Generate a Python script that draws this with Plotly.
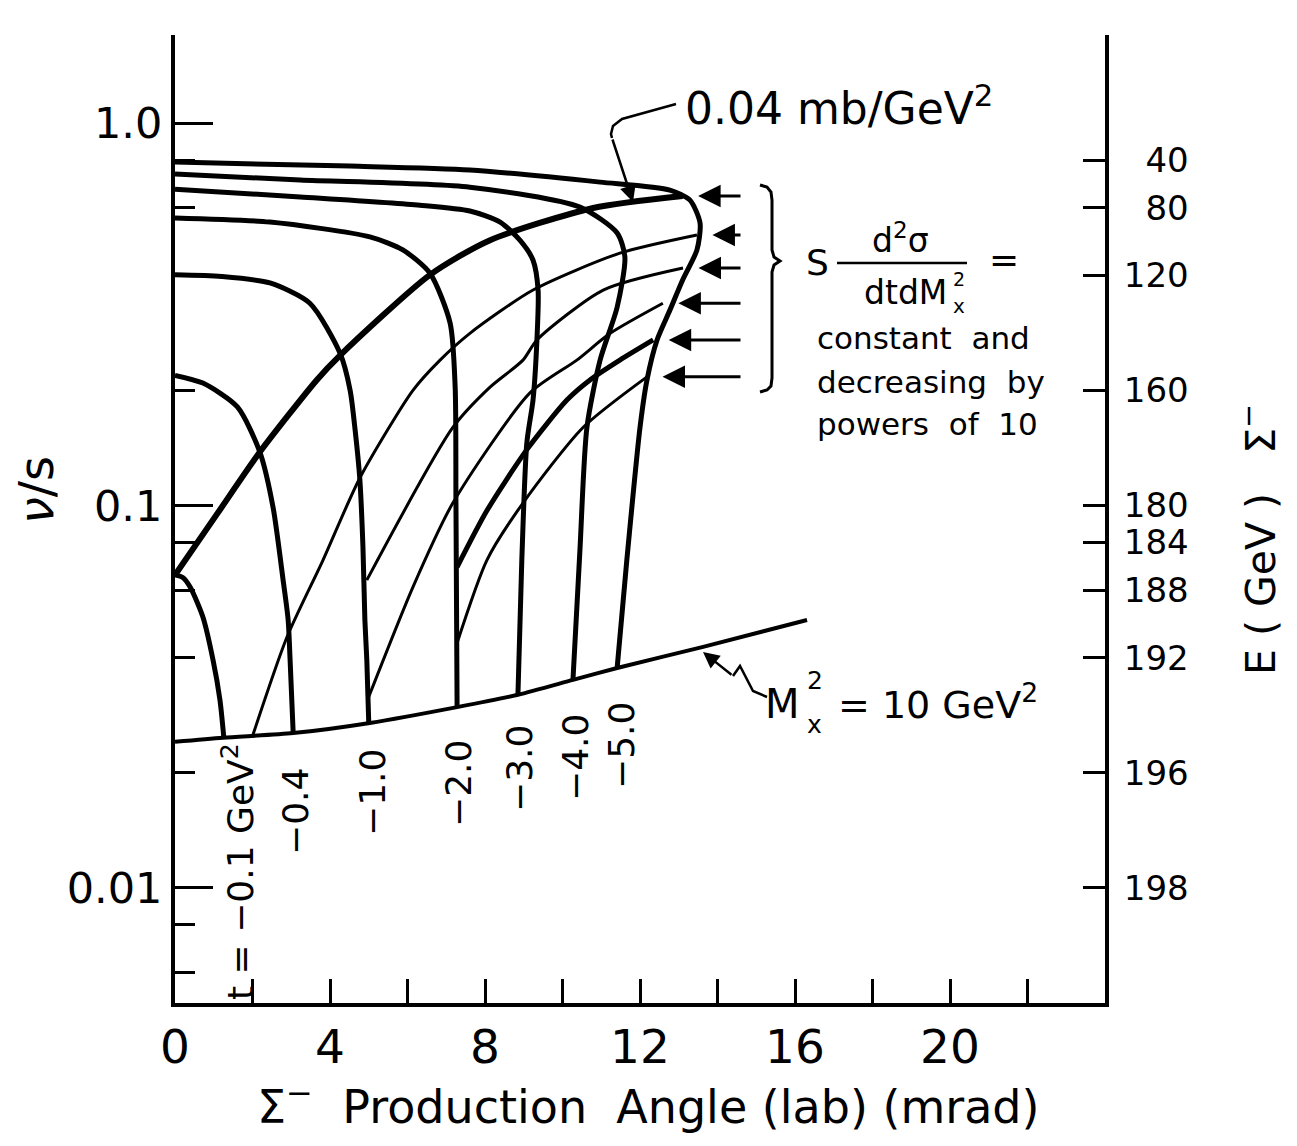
import numpy as np
import plotly.graph_objects as go

# ---------------- data ----------------
# lower kinematic boundary  M_x^2 = 10 GeV^2
BND_X = [0.0, 1.24, 3.05, 5.03, 7.28, 8.85, 10.27, 11.41, 13.63, 16.31]
BND_V = [0.0241, 0.0247, 0.0254, 0.0270, 0.0297, 0.0320, 0.0350, 0.0376, 0.0427, 0.0502]

# constant-t curves (theta in mrad, nu/s)
T01_X = [0.0, 0.2, 0.39, 0.72, 0.98, 1.16, 1.26]
T01_V = [0.0658, 0.0648, 0.0612, 0.0511, 0.0395, 0.0310, 0.0247]
T04_X = [0.0, 0.72, 1.61, 2.19, 2.53, 2.79, 2.92, 2.97, 3.05]
T04_V = [0.219, 0.209, 0.181, 0.138, 0.099, 0.0638, 0.0502, 0.0395, 0.0254]
T10_X = [0.0, 1.2, 2.45, 3.48, 4.26, 4.52, 4.65, 4.77, 4.85, 4.90, 4.95, 5.0]
T10_V = [0.401, 0.397, 0.382, 0.338, 0.250, 0.200, 0.157, 0.117, 0.078, 0.0502, 0.0395, 0.0270]
T20_X = [0.0, 2.45, 5.03, 5.88, 6.58, 7.10, 7.23, 7.25, 7.28]
T20_V = [0.565, 0.551, 0.504, 0.466, 0.405, 0.300, 0.204, 0.103, 0.0297]
T30_X = [0.0, 3.23, 6.32, 7.61, 8.39, 8.90, 9.24, 9.37, 9.34, 9.24, 9.08, 8.95, 8.85]
T30_V = [0.672, 0.641, 0.610, 0.589, 0.551, 0.494, 0.438, 0.366, 0.271, 0.189, 0.146, 0.0720, 0.0320]
T40_X = [0.0, 3.23, 7.61, 10.45, 11.41, 11.61, 11.41, 10.97, 10.63, 10.45, 10.27]
T40_V = [0.736, 0.710, 0.680, 0.603, 0.516, 0.446, 0.330, 0.240, 0.160, 0.0765, 0.0350]
T50_X = [0.0, 4.52, 7.61, 10.97, 12.77, 13.29, 13.55, 13.47, 13.10, 12.77, 12.44, 12.18, 12.0, 11.66, 11.41]
T50_V = [0.791, 0.772, 0.754, 0.701, 0.668, 0.629, 0.548, 0.466, 0.389, 0.324, 0.271, 0.213, 0.160, 0.0720, 0.0376]

# contours of constant s d2sigma/dt dMx2 (0.04 mb/GeV^2 and decreasing by 10)
C0_X = [0.0, 1.1, 2.19, 3.66, 4.26, 6.58, 8.13, 10.79, 13.1]
C0_V = [0.0658, 0.0955, 0.138, 0.213, 0.247, 0.401, 0.494, 0.600, 0.645]
C1_X = [2.01, 2.89, 3.82, 4.77, 6.14, 6.84, 7.61, 9.24, 11.48, 13.47]
C1_V = [0.0251, 0.0453, 0.0720, 0.118, 0.200, 0.240, 0.282, 0.366, 0.457, 0.510]
C2_X = [4.95, 7.17, 8.13, 8.98, 9.34, 11.05, 13.11]
C2_V = [0.0638, 0.160, 0.204, 0.240, 0.271, 0.366, 0.418]
C3_X = [5.0, 6.14, 7.17, 9.16, 10.37, 11.23, 12.59]
C3_V = [0.0316, 0.0612, 0.1015, 0.197, 0.240, 0.282, 0.338]
C4_X = [7.28, 8.05, 9.08, 10.12, 10.71, 11.48, 12.34]
C4_V = [0.0690, 0.097, 0.140, 0.189, 0.213, 0.240, 0.271]
C5_X = [7.28, 8.05, 8.98, 10.53, 12.18]
C5_V = [0.0437, 0.072, 0.1015, 0.160, 0.217]

T_LABELS = ["t = \u22120.1 GeV<sup>2</sup>", "\u22120.4", "\u22121.0", "\u22122.0",
            "\u22123.0", "\u22124.0", "\u22125.0"]

X_TICKS = [0, 4, 8, 12, 16, 20]
X_MINOR = [2, 6, 10, 14, 18, 22]
Y_TICKS = [0.01, 0.1, 1.0]
Y_TICKTEXT = ["0.01", "0.1", "1.0"]
Y_MINOR = [0.006, 0.008, 0.02, 0.04, 0.06, 0.08, 0.2, 0.4, 0.6, 0.8]
E_LABELS = [40, 80, 120, 160, 180, 184, 188, 192, 196, 198]
E0 = 200.0  # beam energy, GeV  (nu/s = (E0 - E)/E0)

# ---------------- figure ----------------
OFF = 8                      # default page (body) margin of the html
W, H = 1297 - 2 * OFF, 1146 - 2 * OFF
PX0, PX1, PY0, PY1 = 175, 1105, 35, 1003   # plot area in page pixels
ML, MT = PX0 - OFF, PY0 - OFF
MR, MB = W - ML - (PX1 - PX0), H - MT - (PY1 - PY0)
FONT = "DejaVu Sans"
YR = [np.log10(0.005), np.log10(1.7)]


def P(px, py):
    """page pixel position -> paper coordinates"""
    return (px - PX0) / (PX1 - PX0), (PY1 - py) / (PY1 - PY0)


fig = go.Figure()


def curve(xs, vs, w):
    fig.add_trace(go.Scatter(x=xs, y=vs, mode="lines", hoverinfo="skip", showlegend=False,
                             line=dict(color="black", width=w, shape="spline", smoothing=0.7)))


curve(BND_X, BND_V, 4)
for xs, vs in [(T01_X, T01_V), (T04_X, T04_V), (T10_X, T10_V), (T20_X, T20_V),
               (T30_X, T30_V), (T40_X, T40_V), (T50_X, T50_V)]:
    curve(xs, vs, 5)
curve(C0_X, C0_V, 6)
curve(C1_X, C1_V, 3)
curve(C2_X, C2_V, 3)
curve(C3_X, C3_V, 3)
curve(C4_X, C4_V, 5)
curve(C5_X, C5_V, 3)

# invisible trace so the right-hand axis is drawn
fig.add_trace(go.Scatter(x=[BND_X[0]], y=[BND_V[0]], yaxis="y2", mode="markers",
                         marker=dict(opacity=0), hoverinfo="skip", showlegend=False))

ann = []


def text(px, py, s, size, angle=0, xanchor="center"):
    x, y = P(px, py)
    ann.append(dict(x=x, y=y, xref="paper", yref="paper", text=s, showarrow=False,
                    textangle=angle, xanchor=xanchor, yanchor="middle",
                    font=dict(family=FONT, size=size, color="black")))


# axis titles
text(648, 1104, "\u03a3<sup>\u2212</sup>  Production  Angle (lab) (mrad)", 46)
text(36, 490, "<i>\u03bd</i>/s", 48, angle=-90)
text(1258, 540, "E ( GeV )   \u03a3<sup>\u2212</sup>", 41, angle=-90)

# t labels
for (px, py), s in zip([(238, 872), (295, 812), (372, 793), (458, 784), (519, 769),
                        (575, 758), (621, 746)], T_LABELS):
    text(px, py, s, 36, angle=-90)

# annotation texts
text(683, 105, "0.04 mb/GeV<sup>2</sup>", 44, xanchor="left")
# M_x^2 = 10 GeV^2  (super/subscript stacked)
text(763, 704, "M", 40, xanchor="left")
text(805, 680, "2", 25, xanchor="left")
text(805, 724, "x", 25, xanchor="left")
text(836, 702, "= 10 GeV<sup>2</sup>", 38, xanchor="left")
# S d2sigma / dt dMx2 =
text(804, 262, "S", 36, xanchor="left")
text(900, 238, "d<sup>2</sup>\u03c3", 33)
text(949, 293, "dtdM", 33, xanchor="right")
text(951, 279, "2", 19, xanchor="left")
text(951, 306, "x", 20, xanchor="left")
text(987, 260, "=", 36, xanchor="left")
text(815, 338, "constant  and", 31, xanchor="left")
text(815, 382, "decreasing  by", 31, xanchor="left")
text(815, 424, "powers  of  10", 31, xanchor="left")

# arrows pointing at the contour ends
ARROW_TAIL = (742 - PX0) / (PX1 - PX0) * 24.0
for xs, vs in [(C0_X, C0_V), (C1_X, C1_V), (C2_X, C2_V), (C3_X, C3_V), (C4_X, C4_V), (C5_X, C5_V)]:
    ly = np.log10(vs[-1])
    ann.append(dict(x=xs[-1] + 0.4, y=ly, xref="x", yref="y", ax=ARROW_TAIL, ay=ly,
                    axref="x", ayref="y", text="", showarrow=True, arrowhead=2,
                    arrowsize=1.5, arrowwidth=3, arrowcolor="black", standoff=0))


def leader(head, tail):
    hx, hy = P(*head)
    ann.append(dict(x=hx, y=hy, xref="paper", yref="paper", ax=tail[0] - head[0],
                    ay=tail[1] - head[1], axref="pixel", ayref="pixel", text="",
                    showarrow=True, arrowhead=2, arrowsize=1.3, arrowwidth=2.5,
                    arrowcolor="black", standoff=0))


leader((633, 202), (612, 138))   # 0.04 mb/GeV^2
leader((703, 652), (733, 676))   # M_x^2


def path(pts):
    s = ""
    for i, (px, py) in enumerate(pts):
        x, y = P(px, py)
        s += ("M" if i == 0 else "L") + f"{x:.5f},{y:.5f} "
    return s


shapes = []
# leader line 0.04
shapes.append(dict(type="path", xref="paper", yref="paper",
                   path=path([(676, 104), (622, 119), (613, 126), (611, 134), (612, 138)]),
                   line=dict(color="black", width=2.5)))
# zig-zag leader M_x^2
shapes.append(dict(type="path", xref="paper", yref="paper",
                   path=path([(733, 676), (740, 666), (753, 691), (767, 697)]),
                   line=dict(color="black", width=2.5)))
# brace
shapes.append(dict(type="path", xref="paper", yref="paper",
                   path=path([(760, 185), (767, 187), (771, 192), (772, 200), (772, 250),
                              (774, 257), (780, 261), (774, 265), (772, 272), (772, 378),
                              (771, 386), (767, 390), (760, 392)]),
                   line=dict(color="black", width=3)))
# fraction bar
x0, y0 = P(837, 263)
x1, _ = P(967, 263)
shapes.append(dict(type="line", xref="paper", yref="paper", x0=x0, x1=x1, y0=y0, y1=y0,
                   line=dict(color="black", width=2.5)))

fig.update_layout(
    width=W, height=H, margin=dict(l=ML, r=MR, t=MT, b=MB, pad=0),
    paper_bgcolor="white", plot_bgcolor="white", showlegend=False,
    xaxis=dict(range=[0, 24], tickmode="array", tickvals=X_TICKS,
               ticktext=[str(v) for v in X_TICKS], ticks="inside", ticklen=24, tickwidth=2.5,
               tickcolor="black", minor=dict(tickmode="array", tickvals=X_MINOR, ticks="inside",
                                             ticklen=24, tickwidth=2.5, tickcolor="black"),
               showline=True, linewidth=3.5, linecolor="black", mirror=False,
               showgrid=False, zeroline=False,
               tickfont=dict(family=FONT, size=47, color="black")),
    yaxis=dict(type="log", range=YR, tickmode="array", tickvals=Y_TICKS, ticktext=Y_TICKTEXT,
               ticks="inside", ticklen=38, tickwidth=2.5, tickcolor="black",
               minor=dict(tickmode="array", tickvals=Y_MINOR, ticks="inside", ticklen=20,
                          tickwidth=2.5, tickcolor="black"),
               showline=True, linewidth=4, linecolor="black", mirror=False,
               showgrid=False, zeroline=False,
               tickfont=dict(family=FONT, size=43, color="black")),
    yaxis2=dict(type="log", range=YR, overlaying="y", side="right", tickmode="array",
                tickvals=[(E0 - e) / E0 for e in E_LABELS],
                ticktext=[("\u2007" if e < 100 else "") + str(e) for e in E_LABELS],
                ticks="inside", ticklen=22, tickwidth=2.5, tickcolor="black",
                ticklabelstandoff=8,
                showline=True, linewidth=4, linecolor="black", showgrid=False, zeroline=False,
                tickfont=dict(family=FONT, size=34, color="black")),
    annotations=ann, shapes=shapes,
)

fig.write_html("out.html")
